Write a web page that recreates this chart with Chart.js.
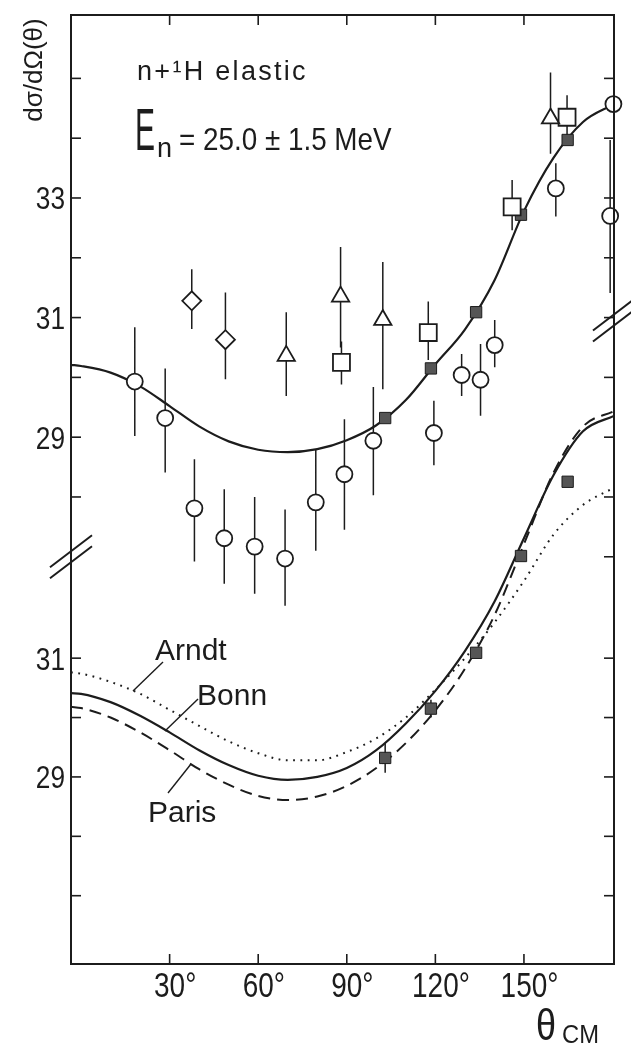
<!DOCTYPE html>
<html><head><meta charset="utf-8">
<script src="https://cdn.jsdelivr.net/npm/chart.js@4.4.1/dist/chart.umd.min.js"></script>
<style>html,body{margin:0;padding:0;background:#fff;}#wrap{width:631px;height:1048px;}</style>
</head><body><div id="wrap"><canvas id="c" width="631" height="1048" style="width:631px;height:1048px"></canvas></div>
<script>
// ---------------- data ----------------
const xTickValues = [30, 60, 90, 120, 150];
const xTickLabels = ['30°', '60°', '90°', '120°', '150°'];
const yUpperTicksLeft = [28, 29, 30, 31, 32, 33, 34, 35];
const yUpperTicksRight = [27, 28, 29, 30, 31, 32, 33, 34, 35];
const yUpperLabels = [33, 31, 29];
const yLowerTicks = [27, 28, 29, 30, 31];
const yLowerLabels = [31, 29];

// open circles (upper panel)
const circTheta = [18.2, 28.5, 38.4, 48.5, 58.8, 69.1, 79.5, 89.2, 99.0, 119.5, 128.9, 135.3, 140.1, 160.8, 179.2, 180.3];
const circVal   = [29.93, 29.32, 27.81, 27.31, 27.17, 26.97, 27.91, 28.38, 28.94, 29.07, 30.04, 29.96, 30.54, 33.16, 32.70, 34.57];
const circLo    = [29.02, 28.41, 26.92, 26.55, 26.38, 26.18, 27.10, 27.45, 28.03, 28.53, 29.69, 29.36, 30.17, 32.69, 31.41, 34.57];
const circHi    = [30.84, 30.15, 28.63, 28.13, 28.00, 27.79, 28.79, 29.30, 29.84, 29.61, 30.39, 30.56, 30.96, 33.58, 33.97, 34.57];
// open diamonds
const diaTheta = [37.5, 48.9];
const diaVal   = [31.28, 30.63];
const diaLo    = [30.81, 29.97];
const diaHi    = [31.81, 31.42];
// open triangles
const triTheta = [69.5, 87.9, 102.2, 159.0];
const triVal   = [30.36, 31.35, 30.96, 34.33];
const triLo    = [29.69, 30.50, 29.80, 33.74];
const triHi    = [31.09, 32.18, 31.93, 35.10];
// open squares
const sqTheta = [88.2, 117.6, 146.0, 164.6];
const sqVal   = [30.25, 30.75, 32.85, 34.35];
const sqLo    = [29.88, 30.29, 32.46, 33.98];
const sqHi    = [30.60, 31.27, 33.30, 34.72];
// filled squares (same data shown in both panels)
const fillTheta = [103.0, 118.5, 133.8, 149.0, 164.8];
const fillVal   = [29.32, 30.15, 31.09, 32.72, 33.97];
const fillErr   = [0.25, 0.15, 0, 0, 0];

// theoretical curves
const curveTheta = [-3.4, 0, 10, 20, 30, 40, 50, 60, 70, 80, 90, 100, 110, 120, 130, 140, 150, 160, 170, 180.5];
const fitUpper = [30.21, 30.19, 30.08, 29.85, 29.52, 29.18, 28.93, 28.79, 28.75, 28.80, 28.95, 29.20, 29.62, 30.22, 30.80, 31.62, 32.78, 33.67, 34.27, 34.57];
const bonn     = [30.41, 30.40, 30.26, 30.03, 29.75, 29.45, 29.20, 29.02, 28.95, 29.00, 29.15, 29.45, 29.90, 30.45, 31.12, 31.95, 33.02, 34.08, 34.82, 35.08];
const paris    = [30.18, 30.16, 30.00, 29.75, 29.45, 29.13, 28.87, 28.68, 28.61, 28.67, 28.85, 29.15, 29.57, 30.12, 30.82, 31.72, 32.92, 34.12, 34.90, 35.16];
const arndt    = [30.76, 30.74, 30.60, 30.40, 30.13, 29.86, 29.60, 29.40, 29.28, 29.28, 29.42, 29.65, 30.00, 30.47, 31.00, 31.60, 32.30, 33.08, 33.58, 33.87];

// ---------------- helpers ----------------
const INK = '#1c1c1c';
const SANS = '"Liberation Sans", Arial, sans-serif';
const zip = (xs, ys) => xs.map((x, i) => ({x: x, y: ys[i]}));
function errSegs(th, lo, hi) {
  const pts = [];
  th.forEach((t, i) => { if (hi[i] > lo[i]) pts.push({x: t, y: lo[i]}, {x: t, y: hi[i]}, {x: t, y: null}); });
  return pts;
}
const upperErr = [].concat(
  errSegs(circTheta, circLo, circHi), errSegs(diaTheta, diaLo, diaHi),
  errSegs(triTheta, triLo, triHi), errSegs(sqTheta, sqLo, sqHi));
const lowerErr = errSegs(fillTheta, fillVal.map((v, i) => v - fillErr[i]), fillVal.map((v, i) => v + fillErr[i]));

function marker(data, axis, style, r, fill, bw) {
  return {data: data, yAxisID: axis, pointStyle: style, pointRadius: r, pointHoverRadius: r,
    backgroundColor: fill, borderColor: INK, pointBorderWidth: bw, borderWidth: bw, showLine: false, clip: false, order: 0};
}
function curve(data, axis, dash, w) {
  return {data: data, yAxisID: axis, showLine: true, pointRadius: 0, borderColor: INK, borderWidth: w,
    borderDash: dash, cubicInterpolationMode: 'monotone', fill: false, clip: false, order: 1};
}
function errLine(data, axis) {
  return {data: data, yAxisID: axis, showLine: true, spanGaps: false, pointRadius: 0, borderColor: INK,
    borderWidth: 1.5, fill: false, clip: false, order: 2};
}
// text drawn with a horizontal squeeze (the original lettering is condensed)
function txt(ctx, s, x, y, size, align, sx) {
  ctx.save(); ctx.translate(x, y); ctx.scale(sx, 1);
  ctx.font = size + 'px ' + SANS; ctx.textAlign = align; ctx.textBaseline = 'alphabetic';
  ctx.fillText(s, 0, 0); ctx.restore();
}

// ---------------- decorations drawn from the scales ----------------
const decor = {
  id: 'decor',
  afterDatasetsDraw(chart) {
    const ctx = chart.ctx, a = chart.chartArea;
    const X = chart.scales.x, YU = chart.scales.yU, YL = chart.scales.yL;
    const seg = (x1, y1, x2, y2) => { ctx.beginPath(); ctx.moveTo(x1, y1); ctx.lineTo(x2, y2); ctx.stroke(); };
    ctx.save();
    ctx.strokeStyle = INK; ctx.fillStyle = INK; ctx.lineCap = 'butt';
    // frame
    ctx.lineWidth = 2;
    ctx.strokeRect(a.left, a.top, a.right - a.left, a.bottom - a.top);
    // inward ticks
    ctx.lineWidth = 1.6;
    const TL = 10;
    xTickValues.forEach(v => { const p = X.getPixelForValue(v); seg(p, a.bottom, p, a.bottom - TL); seg(p, a.top, p, a.top + TL); });
    yUpperTicksLeft.forEach(v => { const p = YU.getPixelForValue(v); seg(a.left, p, a.left + TL, p); });
    yUpperTicksRight.forEach(v => { const p = YU.getPixelForValue(v); seg(a.right, p, a.right - TL, p); });
    yLowerTicks.forEach(v => { const p = YL.getPixelForValue(v); seg(a.left, p, a.left + TL, p); seg(a.right, p, a.right - TL, p); });
    // axis breaks
    ctx.lineWidth = 2;
    const brk = (cx, cy) => { [-5.5, 5.5].forEach(d => seg(cx - 21, cy + d + 16, cx + 21, cy + d - 16)); };
    brk(a.left, YU.getPixelForValue(27.0));
    brk(a.right, YU.getPixelForValue(30.96));
    // tick labels
    ctx.font = '35px ' + SANS;
    const xsx = 0.8;
    const degW = ctx.measureText('°').width * xsx;
    xTickValues.forEach((v, i) => txt(ctx, xTickLabels[i], X.getPixelForValue(v) + degW / 2, a.bottom + 33, 35, 'center', xsx));
    yUpperLabels.forEach(v => txt(ctx, String(v), a.left - 6, YU.getPixelForValue(v) + 11.5, 32, 'right', 0.82));
    yLowerLabels.forEach(v => txt(ctx, String(v), a.left - 6, YL.getPixelForValue(v) + 11.5, 32, 'right', 0.82));
    // axis titles
    txt(ctx, 'θ', 536, 1040, 45, 'left', 0.8);
    txt(ctx, 'CM', 562, 1043, 25, 'left', 0.95);
    ctx.save(); ctx.translate(42, 70); ctx.rotate(-Math.PI / 2);
    ctx.textAlign = 'center'; ctx.font = '26px ' + SANS; ctx.fillText('dσ/dΩ(θ)', 0, 0); ctx.restore();
    // panel texts
    ctx.textAlign = 'left';
    ctx.font = '27px ' + SANS; ctx.letterSpacing = '2.3px'; ctx.fillText('n+¹H elastic', 137, 80); ctx.letterSpacing = '0px';
    txt(ctx, 'E', 135, 150, 60, 'left', 0.5);
    txt(ctx, 'n', 157, 157, 27, 'left', 1);
    txt(ctx, '= 25.0 ± 1.5 MeV', 179, 150, 32, 'left', 0.87);
    // model labels with leader lines
    ctx.font = '30px ' + SANS;
    ctx.fillText('Arndt', 155, 660);
    ctx.fillText('Bonn', 197, 705);
    ctx.fillText('Paris', 148, 822);
    ctx.lineWidth = 1.4;
    seg(163, 662, 133, 691);
    seg(198, 699, 165, 731);
    seg(191, 764, 168, 793);
    ctx.restore();
  }
};

new Chart(document.getElementById('c'), {
  type: 'scatter',
  data: {
    datasets: [
      marker(zip(circTheta, circVal), 'yU', 'circle', 8, '#fff', 1.8),
      marker(zip(diaTheta, diaVal), 'yU', 'rectRot', 9.5, '#fff', 1.8),
      marker(zip(triTheta, triVal), 'yU', 'triangle', 10, '#fff', 1.8),
      marker(zip(sqTheta, sqVal), 'yU', 'rect', 12, '#fff', 1.8),
      marker(zip(fillTheta, fillVal), 'yU', 'rect', 8, '#555', 1),
      marker(zip(fillTheta, fillVal), 'yL', 'rect', 8, '#555', 1),
      curve(zip(curveTheta, fitUpper), 'yU', [], 2.2),
      curve(zip(curveTheta, bonn), 'yL', [], 2.2),
      curve(zip(curveTheta, paris), 'yL', [12, 7], 2),
      curve(zip(curveTheta, arndt), 'yL', [1.8, 5.5], 2),
      errLine(upperErr, 'yU'),
      errLine(lowerErr, 'yL')
    ]
  },
  options: {
    responsive: false, animation: false, devicePixelRatio: 1, events: [],
    layout: {padding: {left: 71, right: 17, top: 15, bottom: 84}},
    plugins: {legend: {display: false}, tooltip: {enabled: false}},
    scales: {
      x: {type: 'linear', min: -3.4, max: 180.5, display: false},
      yU: {type: 'linear', position: 'left', min: 20.19, max: 36.06, display: false},
      yL: {type: 'linear', position: 'left', min: 25.85, max: 41.83, display: false}
    }
  },
  plugins: [decor]
});
</script></body></html>
